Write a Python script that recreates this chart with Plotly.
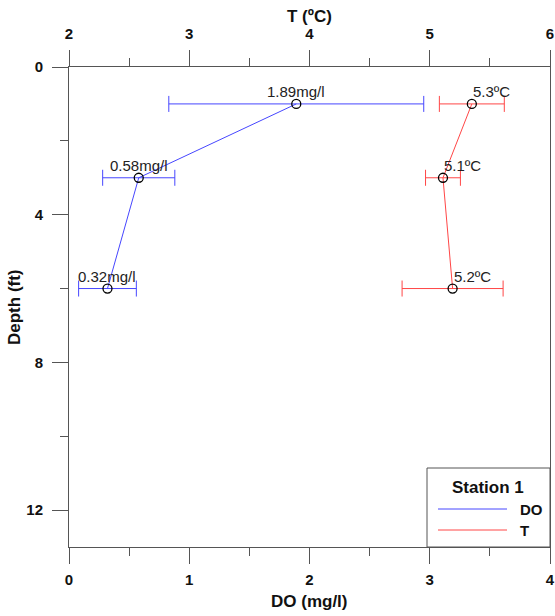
import plotly.graph_objects as go

# ---- data ----
depth = [1, 3, 6]
do_vals = [1.89, 0.58, 0.32]
do_err = [1.06, 0.30, 0.24]
do_labels = ["1.89mg/l", "0.58mg/l", "0.32mg/l"]
t_vals = [5.35, 5.11, 5.19]
t_err = [0.27, 0.145, 0.42]
t_labels = ["5.3ºC", "5.1ºC", "5.2ºC"]
do_ticks = [0, 1, 2, 3, 4]
t_ticks = [2, 3, 4, 5, 6]
depth_ticks = [0, 4, 8, 12]

W, H = 555, 616
# plot area in window pixels
L, R, T, B = 69, 550, 67, 547
FONT = "Liberation Sans, Arial, sans-serif"
AX = "#555555"
BLUE = "rgb(70,70,255)"
RED = "rgb(255,70,70)"


def px(x):
    return (x - L) / (R - L)


def py(y):
    return (B - y) / (B - T)


fig = go.Figure()
fig.add_trace(go.Scatter(
    x=do_vals, y=depth, xaxis="x", yaxis="y", mode="lines+markers",
    line=dict(color=BLUE, width=1),
    marker=dict(symbol="circle-open", size=9, color="black", line=dict(width=1.3)),
    error_x=dict(type="data", array=do_err, color=BLUE, thickness=1, width=8),
    showlegend=False, name="DO"))
fig.add_trace(go.Scatter(
    x=t_vals, y=depth, xaxis="x2", yaxis="y", mode="lines+markers",
    line=dict(color=RED, width=1),
    marker=dict(symbol="circle-open", size=9, color="black", line=dict(width=1.3)),
    error_x=dict(type="data", array=t_err, color=RED, thickness=1, width=8),
    showlegend=False, name="T"))

annotations = []
for v, d, s in zip(do_vals, depth, do_labels):
    annotations.append(dict(x=v, y=d, xref="x", yref="y", text=s, showarrow=False,
                            xanchor="center", yanchor="bottom", yshift=2,
                            font=dict(family=FONT, size=15, color="#222")))
for v, d, s in zip(t_vals, depth, t_labels):
    annotations.append(dict(x=v, y=d, xref="x2", yref="y", text=s, showarrow=False,
                            xanchor="left", yanchor="bottom", yshift=2, xshift=-1,
                            font=dict(family=FONT, size=15, color="#222")))

bold = dict(family=FONT, size=17, color="#111", weight="bold")
annotations += [
    dict(x=0.5, y=py(16), xref="paper", yref="paper", text="T (ºC)", showarrow=False,
         xanchor="center", yanchor="middle", font=bold),
    dict(x=0.5, y=py(601), xref="paper", yref="paper", text="DO (mg/l)", showarrow=False,
         xanchor="center", yanchor="middle", font=bold),
    dict(x=px(14), y=py(307), xref="paper", yref="paper", text="Depth (ft)", showarrow=False,
         xanchor="center", yanchor="middle", textangle=-90, font=bold),
    # legend
    dict(x=px(488), y=py(487), xref="paper", yref="paper", text="Station 1", showarrow=False,
         xanchor="center", yanchor="middle", font=bold),
    dict(x=px(518), y=py(509), xref="paper", yref="paper", text="DO", showarrow=False,
         xanchor="left", yanchor="middle", font=dict(family=FONT, size=15, color="#111", weight="bold")),
    dict(x=px(518), y=py(530), xref="paper", yref="paper", text="T", showarrow=False,
         xanchor="left", yanchor="middle", font=dict(family=FONT, size=15, color="#111", weight="bold")),
]

shapes = [
    dict(type="rect", xref="paper", yref="paper", x0=px(427), x1=px(550), y0=py(547), y1=py(468),
         line=dict(color=AX, width=1), fillcolor="white", layer="above"),
    dict(type="line", xref="paper", yref="paper", x0=px(438), x1=px(507), y0=py(509), y1=py(509),
         line=dict(color=BLUE, width=1), layer="above"),
    dict(type="line", xref="paper", yref="paper", x0=px(438), x1=px(507), y0=py(530), y1=py(530),
         line=dict(color=RED, width=1), layer="above"),
]

tickfont = dict(family=FONT, size=15, color="#111", weight="bold")
common = dict(showgrid=False, zeroline=False, showline=True, linecolor=AX, linewidth=1,
              automargin=False,
              ticks="outside", ticklen=16, tickwidth=1, tickcolor=AX, tickfont=tickfont)

fig.update_layout(
    width=W, height=H, autosize=False,
    margin=dict(l=L, r=W - R, t=T, b=H - B, pad=0, autoexpand=False),
    paper_bgcolor="white", plot_bgcolor="white",
    xaxis=dict(range=[0, 4], tickvals=do_ticks, side="bottom", anchor="y", ticklabelstandoff=3,
               minor=dict(ticks="outside", ticklen=8, dtick=0.5, tick0=0, tickcolor=AX, showgrid=False),
               **common),
    xaxis2=dict(range=[2, 6], tickvals=t_ticks, side="top", overlaying="x", anchor="y",
                ticklabelstandoff=5,
                minor=dict(ticks="outside", ticklen=8, dtick=0.5, tick0=2, tickcolor=AX, showgrid=False),
                **common),
    yaxis=dict(range=[13, 0], tickvals=depth_ticks, mirror=True, ticklabelstandoff=6,
               minor=dict(ticks="outside", ticklen=8, dtick=2, tick0=0, tickcolor=AX, showgrid=False),
               **common),
    annotations=annotations, shapes=shapes,
)

fig.write_html("out.html", config={"displayModeBar": False},
               post_script="document.body.style.margin='0';document.body.style.overflow='hidden';")
